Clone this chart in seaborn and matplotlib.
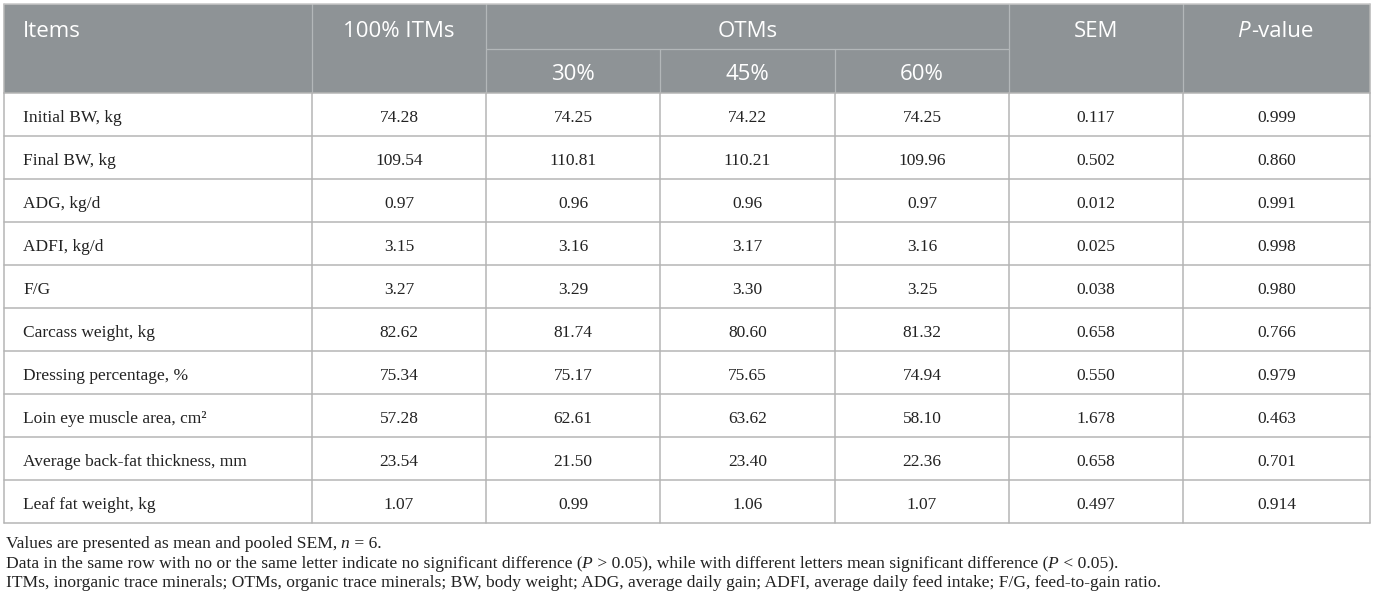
import numpy as np
import pandas as pd
import matplotlib
matplotlib.use("Agg")
import matplotlib.pyplot as plt
import seaborn as sns

# ==========================================================
# Data (read off the reference table)
# ==========================================================
items = [
    "Initial BW, kg", "Final BW, kg", "ADG, kg/d", "ADFI, kg/d", "F/G",
    "Carcass weight, kg", "Dressing percentage, %", "Loin eye muscle area, cm\u00b2",
    "Average back-fat thickness, mm", "Leaf fat weight, kg",
]
itm_100 = ["74.28", "109.54", "0.97", "3.15", "3.27", "82.62", "75.34", "57.28", "23.54", "1.07"]
otm_30 = ["74.25", "110.81", "0.96", "3.16", "3.29", "81.74", "75.17", "62.61", "21.50", "0.99"]
otm_45 = ["74.22", "110.21", "0.96", "3.17", "3.30", "80.60", "75.65", "63.62", "23.40", "1.06"]
otm_60 = ["74.25", "109.96", "0.97", "3.16", "3.25", "81.32", "74.94", "58.10", "22.36", "1.07"]
sem = ["0.117", "0.502", "0.012", "0.025", "0.038", "0.658", "0.550", "1.678", "0.658", "0.497"]
p_value = ["0.999", "0.860", "0.991", "0.998", "0.980", "0.766", "0.979", "0.463", "0.701", "0.914"]

sub_headers = ["30%", "45%", "60%"]

footnotes = [
    [("Values are presented as mean and pooled SEM, ", "normal"), ("n", "italic"), (" = 6.", "normal")],
    [("Data in the same row with no or the same letter indicate no significant difference (", "normal"),
     ("P", "italic"), (" > 0.05), while with different letters mean significant difference (", "normal"),
     ("P", "italic"), (" < 0.05).", "normal")],
    [("ITMs, inorganic trace minerals; OTMs, organic trace minerals; BW, body weight; ADG, average daily gain; "
      "ADFI, average daily feed intake; F/G, feed-to-gain ratio.", "normal")],
]

df = pd.DataFrame({
    "Items": items, "100% ITMs": itm_100, "30%": otm_30, "45%": otm_45,
    "60%": otm_60, "SEM": sem, "P-value": p_value,
})

# ==========================================================
# Style
# ==========================================================
sns.set_theme(style="white")
plt.rcParams['font.family'] = ['Liberation Serif', 'DejaVu Serif']

HEADER_BG = "#8e9396"
HEADER_LINE = "#b3b7b9"
GRID = "#b5b5b5"
TEXT = "#222222"
HEAD_FONT = "Open Sans"

# layout in pixels
col_edges = [4, 312, 486, 660, 835, 1009, 1183, 1370]
top, mid, head_bottom = 4, 49, 93
row_h = 43
n_rows = len(df)
table_bottom = head_bottom + n_rows * row_h

fig = plt.figure(figsize=(13.75, 6.04), dpi=100)
ax = fig.add_axes([0, 0, 1, 1])
ax.set_xlim(0, 1375)
ax.set_ylim(604, 0)
ax.axis("off")
renderer = fig.canvas.get_renderer()


def text_width(s, **kw):
    a = ax.text(0, 0, "|" + s + "|", **kw)
    b = ax.text(0, 0, "||", **kw)
    w = a.get_window_extent(renderer).width - b.get_window_extent(renderer).width
    a.remove()
    b.remove()
    return w


def draw_runs(x, y, runs, ha="left", **kw):
    widths = [text_width(s, fontstyle=st, **kw) for s, st in runs]
    cur = x - sum(widths) / 2 if ha == "center" else x
    for (s, st), w in zip(runs, widths):
        shift = -1.5 if st == "italic" else 0
        ax.text(cur + shift, y, s, fontstyle=st, ha="left", va="baseline", **kw)
        cur += w


# --- header background ---
ax.add_patch(plt.Rectangle((col_edges[0], top), col_edges[-1] - col_edges[0], head_bottom - top,
                           facecolor=HEADER_BG, edgecolor="none"))

# header lines
for x in [col_edges[1], col_edges[2], col_edges[5], col_edges[6]]:
    ax.plot([x, x], [top, head_bottom], color=HEADER_LINE, lw=0.9)
for x in [col_edges[3], col_edges[4]]:
    ax.plot([x, x], [mid, head_bottom], color=HEADER_LINE, lw=0.9)
ax.plot([col_edges[2], col_edges[5]], [mid, mid], color=HEADER_LINE, lw=0.9)

hkw = dict(family=HEAD_FONT, fontsize=16, color="white")
y1 = 37   # baseline of header row 1
y2 = 80   # baseline of header row 2
centers = [(col_edges[i] + col_edges[i + 1]) / 2 for i in range(len(col_edges) - 1)]
ax.text(col_edges[0] + 19, y1, "Items", ha="left", va="baseline", **hkw)
ax.text(centers[1], y1, "100% ITMs", ha="center", va="baseline", **hkw)
ax.text((col_edges[2] + col_edges[5]) / 2, y1, "OTMs", ha="center", va="baseline", **hkw)
for i, lab in enumerate(sub_headers):
    ax.text(centers[2 + i], y2, lab, ha="center", va="baseline", **hkw)
ax.text(centers[5], y1, "SEM", ha="center", va="baseline", **hkw)
draw_runs(centers[6], y1, [("P", "italic"), ("-value", "normal")], ha="center", **hkw)

# --- body grid ---
for k in range(n_rows + 1):
    y = head_bottom + k * row_h
    ax.plot([col_edges[0], col_edges[-1]], [y, y], color=GRID, lw=1.1)
for x in col_edges:
    ax.plot([x, x], [head_bottom, table_bottom], color=GRID, lw=1.1)
for x in [col_edges[0], col_edges[-1]]:
    ax.plot([x, x], [top, head_bottom], color=GRID, lw=1.1)
ax.plot([col_edges[0], col_edges[-1]], [top, top], color="#c8c8c8", lw=1.1)

# --- body text ---
bkw = dict(fontsize=12.5, color=TEXT)
value_cols = ["100% ITMs", "30%", "45%", "60%", "SEM", "P-value"]
for r, row in df.iterrows():
    yb = head_bottom + r * row_h + 29
    ax.text(col_edges[0] + 19, yb, row["Items"], ha="left", va="baseline", **bkw)
    for j, c in enumerate(value_cols):
        ax.text(centers[j + 1], yb, row[c], ha="center", va="baseline", **bkw)

# --- footnotes ---
fkw = dict(fontsize=12.6, color=TEXT)
for i, runs in enumerate(footnotes):
    draw_runs(6, 548 + round(i * 19.5), runs, **fkw)

plt.savefig("out.png", dpi=100)
